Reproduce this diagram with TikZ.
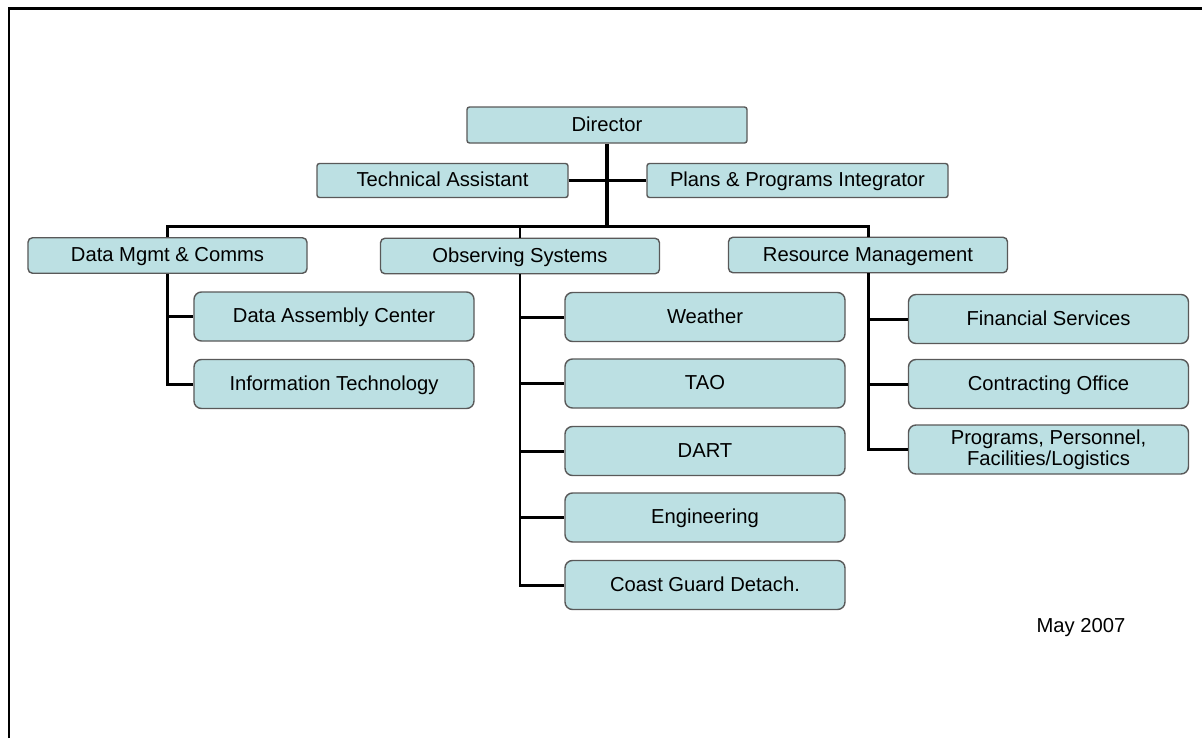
\documentclass[tikz,border=0pt]{standalone}
\usepackage{fontspec}
\setmainfont{Liberation Sans}
\definecolor{boxfill}{HTML}{BCE0E3}
\definecolor{boxline}{HTML}{595959}
\tikzset{
  unit/.style={draw=boxline, line width=0.8pt, fill=boxfill, rounded corners=0.9mm,
    inner sep=0pt, align=center, font=\fontsize{11.5}{10}\selectfont},
  strut/.style={text height=0.72em, text depth=0em},
  staff/.style={unit, strut, rounded corners=0.5mm, minimum height=0.68cm},
  division/.style={unit, strut, minimum width=5.58cm, minimum height=0.71cm},
  branch/.style={unit, rounded corners=1.5mm, minimum width=5.6cm, minimum height=0.98cm},
  link/.style={line width=1.7pt},
}
\begin{document}
\begin{tikzpicture}[x=0.2mm, y=-0.2mm]
    \useasboundingbox (0,0) rectangle (1202,738);

    % Frame
    \draw[line width=1.7pt] (9,738) -- (9,8.5) -- (1202,8.5);

    % Director and staff
    \node[staff, minimum width=5.6cm, minimum height=0.72cm] (director) at (607,125) {Director};
    \node[staff, minimum width=5.02cm] (techasst) at (442.5,180.5) {Technical Assistant};
    \node[staff, minimum width=6.02cm] (plans) at (797.5,180.5) {Plans \& Programs Integrator};

    % Divisions
    \node[division] (datamgmt) at (167.5,255.5) {Data Mgmt \& Comms};
    \node[division] (obssys) at (520,256) {Observing Systems};
    \node[division] (resmgmt) at (868,255) {Resource Management};

    % Data Mgmt branches
    \node[branch, strut] (dac) at (334,316.5) {Data Assembly Center};
    \node[branch, strut] (infotech) at (334,384) {Information Technology};

    % Observing Systems branches
    \node[branch, strut] (weather) at (705,317) {Weather};
    \node[branch, strut] (tao) at (705,383.5) {TAO};
    \node[branch, strut] (dart) at (705,451) {DART};
    \node[branch, strut] (engineering) at (705,517.5) {Engineering};
    \node[branch, strut] (coastguard) at (705,585) {Coast Guard Detach.};

    % Resource Management branches
    \node[branch, strut] (financial) at (1048.5,319) {Financial Services};
    \node[branch, strut] (contracting) at (1048.5,384) {Contracting Office};
    \node[branch] (programs) at (1048.5,449.5) {Programs, Personnel,\\Facilities/Logistics};

    % Date
    \node[font=\fontsize{11.5}{10}\selectfont] (date) at (1081,628) {May 2007};

    % Connectors
    \coordinate (bus) at (607,226);
    \draw[line width=2.2pt] (director.south) -- (bus);
    \draw[link] (techasst) -- (plans);
    \draw[link] (datamgmt.north) |- (bus) -| (resmgmt.north);
    \draw[link] (obssys.north) -- (obssys.north |- bus);
    \foreach \n in {dac,infotech}
        \draw[link] (datamgmt.south) |- (\n.west);
    \foreach \n in {weather,tao,dart,engineering,coastguard}
        \draw[link] (obssys.south) |- (\n.west);
    \foreach \n in {financial,contracting,programs}
        \draw[link] (resmgmt.south) |- (\n.west);
\end{tikzpicture}
\end{document}
